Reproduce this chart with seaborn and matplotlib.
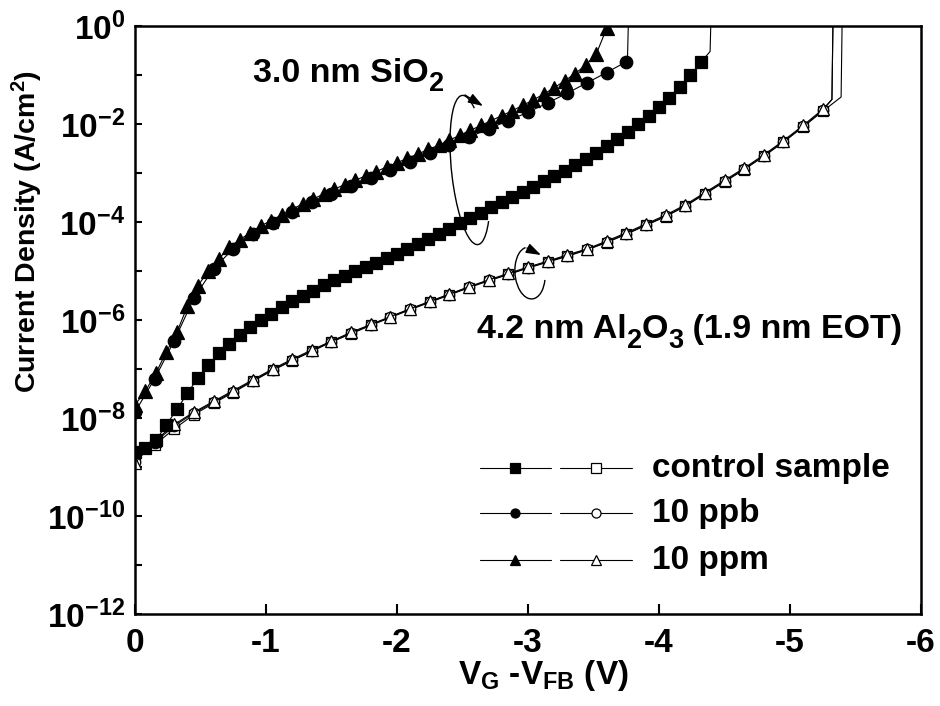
import matplotlib
matplotlib.use("Agg")
import matplotlib.pyplot as plt
from matplotlib.patches import Arc, FancyArrowPatch
from matplotlib.ticker import NullLocator
import seaborn as sns

# ---------------------------------------------------------------- data
# gate sweep for the SiO2 capacitors (V_G - V_FB, volts)
v_sio2 = [0.00, -0.08, -0.16, -0.24, -0.32, -0.40, -0.48, -0.56, -0.64, -0.72,
          -0.80, -0.88, -0.96, -1.04, -1.12, -1.20, -1.28, -1.36, -1.44, -1.52,
          -1.60, -1.68, -1.76, -1.84, -1.92, -2.00, -2.08, -2.16, -2.24, -2.32,
          -2.40, -2.48, -2.56, -2.64, -2.72, -2.80, -2.88, -2.96, -3.04, -3.12,
          -3.20, -3.28, -3.36, -3.44, -3.52, -3.60, -3.68, -3.76, -3.84, -3.92,
          -4.00, -4.08, -4.16, -4.24, -4.32]
# coarser sweep (10 ppb SiO2 and all Al2O3 samples)
v_coarse = [0.00, -0.15, -0.30, -0.45, -0.60, -0.75, -0.90, -1.05, -1.20, -1.35,
            -1.50, -1.65, -1.80, -1.95, -2.10, -2.25, -2.40, -2.55, -2.70, -2.85,
            -3.00, -3.15, -3.30, -3.45, -3.60, -3.75, -3.90, -4.05, -4.20, -4.35,
            -4.50, -4.65, -4.80, -4.95, -5.10, -5.25]

# log10 of current density (A/cm^2)
logj_sio2_control = [-8.69, -8.62, -8.45, -8.14, -7.82, -7.50, -7.18, -6.92, -6.68, -6.48,
                     -6.31, -6.15, -6.01, -5.87, -5.74, -5.62, -5.51, -5.40, -5.29, -5.19,
                     -5.10, -5.01, -4.92, -4.83, -4.74, -4.65, -4.55, -4.45, -4.35, -4.25,
                     -4.14, -4.03, -3.92, -3.81, -3.70, -3.60, -3.49, -3.39, -3.28, -3.17,
                     -3.06, -2.95, -2.84, -2.72, -2.59, -2.45, -2.31, -2.16, -2.00, -1.83,
                     -1.66, -1.46, -1.25, -1.01, -0.74]
logj_sio2_10ppm = [-7.73, -7.45, -7.08, -6.65, -6.25, -5.72, -5.30, -5.00, -4.75, -4.52,
                   -4.36, -4.22, -4.08, -3.97, -3.85, -3.74, -3.63, -3.53, -3.43, -3.33,
                   -3.24, -3.15, -3.06, -2.97, -2.88, -2.79, -2.70, -2.61, -2.52, -2.43,
                   -2.33, -2.23, -2.13, -2.03, -1.93, -1.83, -1.73, -1.62, -1.51, -1.39,
                   -1.26, -1.12, -0.97, -0.80, -0.58, -0.05]
logj_sio2_10ppb = [-7.88, -7.20, -6.42, -5.55, -4.95, -4.55, -4.25, -4.02, -3.80, -3.60,
                   -3.42, -3.27, -3.10, -2.94, -2.78, -2.60, -2.43, -2.27, -2.10, -1.93,
                   -1.76, -1.57, -1.37, -1.16, -0.95, -0.73]
logj_al2o3_control = [-8.82, -8.55, -8.22, -7.93, -7.70, -7.48, -7.25, -7.03, -6.83, -6.64,
                      -6.45, -6.28, -6.11, -5.95, -5.79, -5.64, -5.49, -5.34, -5.20, -5.07,
                      -4.94, -4.82, -4.70, -4.57, -4.42, -4.25, -4.07, -3.89, -3.68, -3.43,
                      -3.18, -2.93, -2.66, -2.37, -2.06, -1.74]
logj_al2o3_10ppb = [-8.89, -8.50, -8.16, -7.90, -7.68, -7.46, -7.24, -7.02, -6.82, -6.63,
                    -6.44, -6.27, -6.10, -5.94, -5.78, -5.63, -5.48, -5.33, -5.19, -5.07,
                    -4.93, -4.81, -4.69, -4.56, -4.41, -4.24, -4.06, -3.88, -3.67, -3.42,
                    -3.17, -2.92, -2.65, -2.36, -2.05, -1.72]
logj_al2o3_10ppm = [-8.92, -8.47, -8.13, -7.88, -7.66, -7.44, -7.22, -7.00, -6.80, -6.61,
                    -6.43, -6.25, -6.09, -5.93, -5.77, -5.62, -5.47, -5.32, -5.18, -5.05,
                    -4.92, -4.80, -4.67, -4.55, -4.39, -4.22, -4.04, -3.86, -3.65, -3.40,
                    -3.15, -2.90, -2.63, -2.34, -2.03, -1.70]

# hard breakdown: current jumps off scale (line only, no symbol)
bd_sio2_control = ([-4.39, -4.40], [-0.52, 0.5])
bd_sio2_10ppm = ([-3.61], [0.5])
bd_sio2_10ppb = ([-3.76, -3.77], [-0.60, 0.5])
bd_al2o3_control = ([-5.39, -5.40], [-1.45, 0.5])
bd_al2o3_10ppb = ([-5.32, -5.33], [-1.50, 0.5])
bd_al2o3_10ppm = ([-5.32, -5.33], [-1.50, 0.5])

legend_labels = ["control sample", "10 ppb", "10 ppm"]
legend_markers = ["s", "o", "^"]

y_exponents = [0, -1, -2, -3, -4, -5, -6, -7, -8, -9, -10, -11, -12]
x_ticks = [0, -1, -2, -3, -4, -5, -6]

# ---------------------------------------------------------------- style
sns.set_style("ticks")
plt.rcParams["font.family"] = ["Liberation Sans", "DejaVu Sans"]
plt.rcParams["font.weight"] = "bold"
plt.rcParams["mathtext.fontset"] = "custom"
plt.rcParams["mathtext.rm"] = "Liberation Sans:bold"
plt.rcParams["mathtext.bf"] = "Liberation Sans:bold"
plt.rcParams["mathtext.it"] = "Liberation Sans:bold"
plt.rcParams["mathtext.default"] = "bf"
for key in ("text.color", "axes.labelcolor", "xtick.color", "ytick.color",
            "axes.edgecolor"):
    plt.rcParams[key] = "black"

FS = 24

fig = plt.figure(figsize=(9.4, 7.06), dpi=100)
ax = fig.add_axes([0.1436, 0.1303, 0.8362, 0.8329])
ax.set_yscale("log")

series = [
    (v_coarse, logj_al2o3_control, bd_al2o3_control, "s", False, 7.0),
    (v_coarse, logj_al2o3_10ppb, bd_al2o3_10ppb, "o", False, 7.5),
    (v_coarse, logj_al2o3_10ppm, bd_al2o3_10ppm, "^", False, 8.5),
    (v_sio2, logj_sio2_control, bd_sio2_control, "s", True, 8.0),
    (v_coarse, logj_sio2_10ppb, bd_sio2_10ppb, "o", True, 9.0),
    (v_sio2, logj_sio2_10ppm, bd_sio2_10ppm, "^", True, 10.0),
]

for v, lj, (bv, bl), mk, filled, ms in series:
    n = len(lj)
    xs = list(v[:n]) + bv
    ys = [10.0 ** e for e in list(lj) + bl]
    sns.lineplot(x=xs, y=ys, ax=ax, sort=False, estimator=None,
                 color="black", lw=0.8, marker=mk, ms=ms,
                 mfc="black" if filled else "white", mec="black", mew=0.9,
                 markevery=list(range(n)))

ax.set_xlim(0, -6)
ax.set_ylim(1e-12, 1)

ax.set_xticks(x_ticks)
ax.set_xticklabels([str(t) for t in x_ticks])
ax.set_yticks([10.0 ** e for e in y_exponents])
ax.set_yticklabels([r"$10^{%d}$" % e if e % 2 == 0 else "" for e in y_exponents])
ax.yaxis.set_minor_locator(NullLocator())
ax.xaxis.set_minor_locator(NullLocator())

ax.tick_params(axis="y", direction="in", length=5, width=1.5, pad=7,
               labelsize=FS, right=False, left=True, colors="black")
ax.tick_params(axis="x", direction="in", length=7, width=1.5, pad=10,
               labelsize=FS, top=False, bottom=True, colors="black")
for lab in ax.get_xticklabels() + ax.get_yticklabels():
    lab.set_fontweight("bold")

for sp in ax.spines.values():
    sp.set_visible(True)
    sp.set_linewidth(1.8)
    sp.set_color("black")

ax.set_xlabel(r"V$_{G}$ -V$_{FB}$ (V)", fontsize=FS, fontweight="bold")
ax.xaxis.set_label_coords(0.52, -0.075)
ax.set_ylabel(r"Current Density (A/cm$^{2}$)", fontsize=20.5, fontweight="bold")
ax.yaxis.set_label_coords(-0.114, 0.65)

# oxide annotations, with large lowered subscripts
renderer = fig.canvas.get_renderer()


def rich_text(x_px, y_px, pieces):
    """Write text pieces one after another; each piece is (text, size, drop_px)."""
    x = x_px
    for s, size, drop in pieces:
        t = fig.text(x / 940, 1 - (y_px + drop) / 706, s, fontsize=size,
                     fontweight="bold", ha="left", va="baseline")
        x += t.get_window_extent(renderer).width


SUB = 19.5
rich_text(253, 82, [("3.0 nm SiO", 24.5, 0), ("2", SUB, 9)])
rich_text(477, 338, [("4.2 nm Al", 24.5, 0), ("2", SUB, 10), ("O", 24.5, 0),
                     ("3", SUB, 10), (" (1.9 nm EOT)", 24.5, 0)])

# curved arrows grouping each oxide's curves (drawn in inches on the figure)
inch = fig.dpi_scale_trans
H = 7.06


def loop(cx, cy, w, h, tilt, t1, t2, tail, tip):
    arc = Arc((cx / 100, H - cy / 100), w / 100, h / 100, angle=tilt,
              theta1=t1, theta2=t2, transform=inch, color="black", lw=1.0,
              clip_on=False)
    fig.add_artist(arc)
    fig.add_artist(FancyArrowPatch(
        (tail[0] / 100, H - tail[1] / 100), (tip[0] / 100, H - tip[1] / 100),
        transform=inch, arrowstyle="-|>,head_length=0.5,head_width=0.17",
        color="black", lw=1.0, mutation_scale=18, shrinkA=0, shrinkB=0))


loop(470, 170, 37, 150, 6, 80, 284, (465, 95), (483, 106))
loop(530, 273, 30, 52, 5, 95, 330, (527, 248), (541, 255))

# legend: filled (SiO2) and open (Al2O3) symbols side by side
row_y = [468, 513, 560]
for lab, mk, py in zip(legend_labels, legend_markers, row_y):
    yf = (614 - py) / 588
    for (x0, x1, xm), face in (((480, 551, 515), "black"), ((560, 632, 596), "white")):
        ax.plot([(x0 - 135) / 786, (x1 - 135) / 786], [yf, yf], transform=ax.transAxes,
                color="black", lw=0.8, clip_on=False)
        ax.plot([(xm - 135) / 786], [yf], transform=ax.transAxes, marker=mk,
                ms=6.5, mfc=face, mec="black", mew=0.9, clip_on=False)
    ax.text((652 - 135) / 786, yf, lab, transform=ax.transAxes, fontsize=FS,
            fontweight="bold", ha="left", va="center")

fig.savefig("out.png", dpi=100)
